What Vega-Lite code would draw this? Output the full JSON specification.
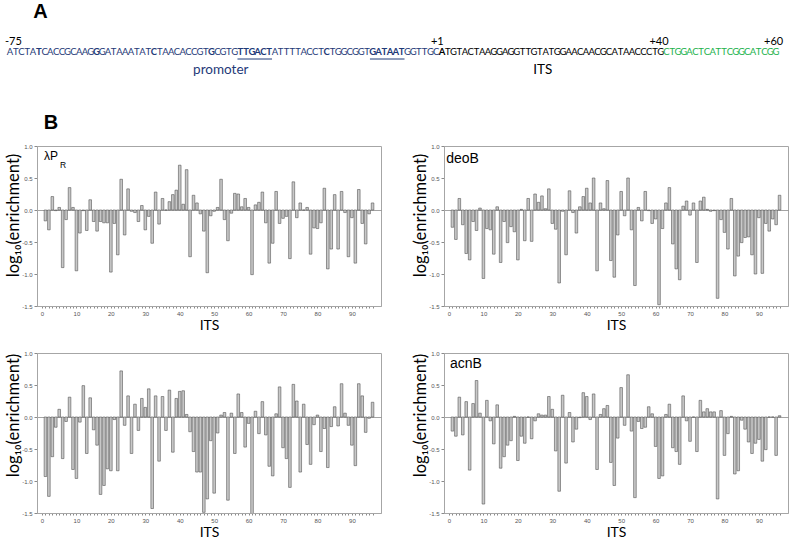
{
"$schema": "https://vega.github.io/schema/vega-lite/v6.json",
"background": "white",
"padding": {"left": 5, "top": 0, "right": 2, "bottom": 2},
"config": {
  "view": {"stroke": "#a6a6a6", "strokeWidth": 1},
  "axis": {"grid": false, "labelFont": "Liberation Sans", "labelFontSize": 6, "labelColor": "#555555", "domainColor": "#a6a6a6", "tickColor": "#8a8a8a", "titleFont": "Lato", "titleFontWeight": "normal", "titleColor": "#000000", "labelFlush": false, "labelOverlap": false},
  "text": {"font": "Lato"}
},
"datasets": {
"seq": [
{"i":1,"c":"A","g":"p","b":0},{"i":2,"c":"T","g":"p","b":0},{"i":3,"c":"C","g":"p","b":0},{"i":4,"c":"T","g":"p","b":0},{"i":5,"c":"A","g":"p","b":0},{"i":6,"c":"T","g":"p","b":1},{"i":7,"c":"C","g":"p","b":0},{"i":8,"c":"A","g":"p","b":0},{"i":9,"c":"C","g":"p","b":0},{"i":10,"c":"C","g":"p","b":0},
{"i":11,"c":"G","g":"p","b":0},{"i":12,"c":"C","g":"p","b":0},{"i":13,"c":"A","g":"p","b":0},{"i":14,"c":"A","g":"p","b":0},{"i":15,"c":"G","g":"p","b":0},{"i":16,"c":"G","g":"p","b":1},{"i":17,"c":"G","g":"p","b":0},{"i":18,"c":"A","g":"p","b":0},{"i":19,"c":"T","g":"p","b":0},{"i":20,"c":"A","g":"p","b":0},
{"i":21,"c":"A","g":"p","b":0},{"i":22,"c":"A","g":"p","b":0},{"i":23,"c":"T","g":"p","b":0},{"i":24,"c":"A","g":"p","b":0},{"i":25,"c":"T","g":"p","b":0},{"i":26,"c":"C","g":"p","b":1},{"i":27,"c":"T","g":"p","b":0},{"i":28,"c":"A","g":"p","b":0},{"i":29,"c":"A","g":"p","b":0},{"i":30,"c":"C","g":"p","b":0},
{"i":31,"c":"A","g":"p","b":0},{"i":32,"c":"C","g":"p","b":0},{"i":33,"c":"C","g":"p","b":0},{"i":34,"c":"G","g":"p","b":0},{"i":35,"c":"T","g":"p","b":0},{"i":36,"c":"G","g":"p","b":1},{"i":37,"c":"C","g":"p","b":0},{"i":38,"c":"G","g":"p","b":0},{"i":39,"c":"T","g":"p","b":0},{"i":40,"c":"G","g":"p","b":0},
{"i":41,"c":"T","g":"p","b":1},{"i":42,"c":"T","g":"p","b":1},{"i":43,"c":"G","g":"p","b":1},{"i":44,"c":"A","g":"p","b":1},{"i":45,"c":"C","g":"p","b":1},{"i":46,"c":"T","g":"p","b":1},{"i":47,"c":"A","g":"p","b":0},{"i":48,"c":"T","g":"p","b":0},{"i":49,"c":"T","g":"p","b":0},{"i":50,"c":"T","g":"p","b":0},
{"i":51,"c":"T","g":"p","b":0},{"i":52,"c":"A","g":"p","b":0},{"i":53,"c":"C","g":"p","b":0},{"i":54,"c":"C","g":"p","b":0},{"i":55,"c":"T","g":"p","b":0},{"i":56,"c":"C","g":"p","b":1},{"i":57,"c":"T","g":"p","b":0},{"i":58,"c":"G","g":"p","b":0},{"i":59,"c":"G","g":"p","b":0},{"i":60,"c":"C","g":"p","b":0},
{"i":61,"c":"G","g":"p","b":0},{"i":62,"c":"G","g":"p","b":0},{"i":63,"c":"T","g":"p","b":0},{"i":64,"c":"G","g":"p","b":1},{"i":65,"c":"A","g":"p","b":1},{"i":66,"c":"T","g":"p","b":1},{"i":67,"c":"A","g":"p","b":1},{"i":68,"c":"A","g":"p","b":1},{"i":69,"c":"T","g":"p","b":1},{"i":70,"c":"G","g":"p","b":0},
{"i":71,"c":"G","g":"p","b":0},{"i":72,"c":"T","g":"p","b":0},{"i":73,"c":"T","g":"p","b":0},{"i":74,"c":"G","g":"p","b":0},{"i":75,"c":"C","g":"p","b":0},{"i":76,"c":"A","g":"t","b":1},{"i":77,"c":"T","g":"t","b":0},{"i":78,"c":"G","g":"t","b":0},{"i":79,"c":"T","g":"t","b":0},{"i":80,"c":"A","g":"t","b":0},
{"i":81,"c":"C","g":"t","b":0},{"i":82,"c":"T","g":"t","b":0},{"i":83,"c":"A","g":"t","b":0},{"i":84,"c":"A","g":"t","b":0},{"i":85,"c":"G","g":"t","b":0},{"i":86,"c":"G","g":"t","b":0},{"i":87,"c":"A","g":"t","b":0},{"i":88,"c":"G","g":"t","b":0},{"i":89,"c":"G","g":"t","b":0},{"i":90,"c":"T","g":"t","b":0},
{"i":91,"c":"T","g":"t","b":0},{"i":92,"c":"G","g":"t","b":0},{"i":93,"c":"T","g":"t","b":0},{"i":94,"c":"A","g":"t","b":0},{"i":95,"c":"T","g":"t","b":0},{"i":96,"c":"G","g":"t","b":0},{"i":97,"c":"G","g":"t","b":0},{"i":98,"c":"A","g":"t","b":0},{"i":99,"c":"A","g":"t","b":0},{"i":100,"c":"C","g":"t","b":0},
{"i":101,"c":"A","g":"t","b":0},{"i":102,"c":"A","g":"t","b":0},{"i":103,"c":"C","g":"t","b":0},{"i":104,"c":"G","g":"t","b":0},{"i":105,"c":"C","g":"t","b":0},{"i":106,"c":"A","g":"t","b":0},{"i":107,"c":"T","g":"t","b":0},{"i":108,"c":"A","g":"t","b":0},{"i":109,"c":"A","g":"t","b":0},{"i":110,"c":"C","g":"t","b":0},
{"i":111,"c":"C","g":"t","b":0},{"i":112,"c":"C","g":"t","b":0},{"i":113,"c":"T","g":"t","b":0},{"i":114,"c":"G","g":"t","b":0},{"i":115,"c":"C","g":"d","b":0},{"i":116,"c":"T","g":"d","b":0},{"i":117,"c":"G","g":"d","b":0},{"i":118,"c":"G","g":"d","b":0},{"i":119,"c":"A","g":"d","b":0},{"i":120,"c":"C","g":"d","b":0},
{"i":121,"c":"T","g":"d","b":0},{"i":122,"c":"C","g":"d","b":0},{"i":123,"c":"A","g":"d","b":0},{"i":124,"c":"T","g":"d","b":0},{"i":125,"c":"T","g":"d","b":0},{"i":126,"c":"C","g":"d","b":0},{"i":127,"c":"G","g":"d","b":0},{"i":128,"c":"G","g":"d","b":0},{"i":129,"c":"C","g":"d","b":0},{"i":130,"c":"A","g":"d","b":0},
{"i":131,"c":"T","g":"d","b":0},{"i":132,"c":"C","g":"d","b":0},{"i":133,"c":"G","g":"d","b":0},{"i":134,"c":"G","g":"d","b":0}
],
"lpr": [
{"pos":1,"val":-0.17},{"pos":2,"val":-0.31},{"pos":3,"val":0.21},{"pos":4,"val":-0.01},{"pos":5,"val":0.04},{"pos":6,"val":-0.9},{"pos":7,"val":-0.15},{"pos":8,"val":0.35},{"pos":9,"val":0.04},{"pos":10,"val":-0.95},
{"pos":11,"val":-0.36},{"pos":12,"val":-0.01},{"pos":13,"val":-0.32},{"pos":14,"val":0.16},{"pos":15,"val":-0.18},{"pos":16,"val":-0.33},{"pos":17,"val":-0.18},{"pos":18,"val":-0.2},{"pos":19,"val":-0.2},{"pos":20,"val":-0.97},
{"pos":21,"val":-0.21},{"pos":22,"val":-0.7},{"pos":23,"val":0.48},{"pos":24,"val":-0.39},{"pos":25,"val":0.33},{"pos":26,"val":-0.02},{"pos":27,"val":-0.04},{"pos":28,"val":-0.18},{"pos":29,"val":0.07},{"pos":30,"val":-0.31},
{"pos":31,"val":-0.1},{"pos":32,"val":-0.52},{"pos":33,"val":0.28},{"pos":34,"val":-0.22},{"pos":35,"val":0.18},{"pos":36,"val":0.0},{"pos":37,"val":0.13},{"pos":38,"val":0.24},{"pos":39,"val":0.31},{"pos":40,"val":0.7},
{"pos":41,"val":0.09},{"pos":42,"val":0.63},{"pos":43,"val":-0.73},{"pos":44,"val":0.23},{"pos":45,"val":0.11},{"pos":46,"val":-0.06},{"pos":47,"val":-0.33},{"pos":48,"val":-0.98},{"pos":49,"val":-0.09},{"pos":50,"val":-0.02},
{"pos":51,"val":0.04},{"pos":52,"val":0.48},{"pos":53,"val":-0.15},{"pos":54,"val":-0.48},{"pos":55,"val":-0.05},{"pos":56,"val":0.26},{"pos":57,"val":0.25},{"pos":58,"val":0.05},{"pos":59,"val":0.18},{"pos":60,"val":0.04},
{"pos":61,"val":-1.01},{"pos":62,"val":0.08},{"pos":63,"val":0.12},{"pos":64,"val":0.28},{"pos":65,"val":-0.2},{"pos":66,"val":-0.83},{"pos":67,"val":-0.52},{"pos":68,"val":0.29},{"pos":69,"val":-0.21},{"pos":70,"val":-0.13},
{"pos":71,"val":-0.1},{"pos":72,"val":-0.76},{"pos":73,"val":0.44},{"pos":74,"val":-0.12},{"pos":75,"val":0.11},{"pos":76,"val":0.0},{"pos":77,"val":0.04},{"pos":78,"val":-0.69},{"pos":79,"val":-0.28},{"pos":80,"val":-0.29},
{"pos":81,"val":-0.2},{"pos":82,"val":0.34},{"pos":83,"val":-0.92},{"pos":84,"val":-0.61},{"pos":85,"val":0.24},{"pos":86,"val":-0.61},{"pos":87,"val":0.29},{"pos":88,"val":-0.04},{"pos":89,"val":-0.73},{"pos":90,"val":-0.12},
{"pos":91,"val":-0.83},{"pos":92,"val":0.32},{"pos":93,"val":-0.21},{"pos":94,"val":-0.53},{"pos":95,"val":-0.06},{"pos":96,"val":0.11}
],
"deob": [
{"pos":1,"val":-0.27},{"pos":2,"val":-0.46},{"pos":3,"val":0.18},{"pos":4,"val":-0.23},{"pos":5,"val":-0.68},{"pos":6,"val":-0.78},{"pos":7,"val":-0.18},{"pos":8,"val":-0.32},{"pos":9,"val":0.03},{"pos":10,"val":-1.07},
{"pos":11,"val":-0.29},{"pos":12,"val":-0.31},{"pos":13,"val":-0.69},{"pos":14,"val":0.05},{"pos":15,"val":-0.82},{"pos":16,"val":-0.18},{"pos":17,"val":-0.51},{"pos":18,"val":-0.26},{"pos":19,"val":-0.34},{"pos":20,"val":-0.78},
{"pos":21,"val":0.01},{"pos":22,"val":-0.48},{"pos":23,"val":0.18},{"pos":24,"val":-0.49},{"pos":25,"val":0.25},{"pos":26,"val":0.12},{"pos":27,"val":0.22},{"pos":28,"val":0.02},{"pos":29,"val":0.33},{"pos":30,"val":-0.21},
{"pos":31,"val":-0.3},{"pos":32,"val":-1.14},{"pos":33,"val":-0.02},{"pos":34,"val":-0.7},{"pos":35,"val":0.3},{"pos":36,"val":-0.04},{"pos":37,"val":-0.36},{"pos":38,"val":0.05},{"pos":39,"val":0.21},{"pos":40,"val":0.34},
{"pos":41,"val":0.11},{"pos":42,"val":0.5},{"pos":43,"val":-0.95},{"pos":44,"val":0.11},{"pos":45,"val":0.02},{"pos":46,"val":0.46},{"pos":47,"val":-0.79},{"pos":48,"val":-1.05},{"pos":49,"val":-0.39},{"pos":50,"val":0.29},
{"pos":51,"val":-0.09},{"pos":52,"val":0.5},{"pos":53,"val":-0.31},{"pos":54,"val":-1.18},{"pos":55,"val":0.04},{"pos":56,"val":-0.17},{"pos":57,"val":0.29},{"pos":58,"val":-0.01},{"pos":59,"val":-0.21},{"pos":60,"val":-0.14},
{"pos":61,"val":-1.48},{"pos":62,"val":-0.29},{"pos":63,"val":0.11},{"pos":64,"val":0.35},{"pos":65,"val":-0.53},{"pos":66,"val":-0.92},{"pos":67,"val":-1.09},{"pos":68,"val":0.06},{"pos":69,"val":0.14},{"pos":70,"val":-0.08},
{"pos":71,"val":0.11},{"pos":72,"val":-0.82},{"pos":73,"val":0.14},{"pos":74,"val":0.2},{"pos":75,"val":0.01},{"pos":76,"val":-0.02},{"pos":77,"val":-0.01},{"pos":78,"val":-1.38},{"pos":79,"val":-0.15},{"pos":80,"val":-0.35},
{"pos":81,"val":-0.61},{"pos":82,"val":0.18},{"pos":83,"val":-1.03},{"pos":84,"val":-0.72},{"pos":85,"val":-0.51},{"pos":86,"val":-0.43},{"pos":87,"val":-0.42},{"pos":88,"val":-0.7},{"pos":89,"val":-1.0},{"pos":90,"val":-0.12},
{"pos":91,"val":-0.99},{"pos":92,"val":-0.21},{"pos":93,"val":-0.33},{"pos":94,"val":-0.14},{"pos":95,"val":-0.23},{"pos":96,"val":0.23}
],
"bl": [
{"pos":1,"val":-0.93},{"pos":2,"val":-1.24},{"pos":3,"val":-0.62},{"pos":4,"val":-0.16},{"pos":5,"val":0.12},{"pos":6,"val":-0.65},{"pos":7,"val":-0.07},{"pos":8,"val":0.31},{"pos":9,"val":-0.82},{"pos":10,"val":-0.96},
{"pos":11,"val":-0.08},{"pos":12,"val":0.49},{"pos":13,"val":-0.57},{"pos":14,"val":0.3},{"pos":15,"val":-0.2},{"pos":16,"val":-0.44},{"pos":17,"val":-1.21},{"pos":18,"val":-1.07},{"pos":19,"val":-0.81},{"pos":20,"val":-0.84},
{"pos":21,"val":-0.04},{"pos":22,"val":-0.84},{"pos":23,"val":0.72},{"pos":24,"val":-0.13},{"pos":25,"val":0.33},{"pos":26,"val":-0.57},{"pos":27,"val":0.2},{"pos":28,"val":-0.21},{"pos":29,"val":0.29},{"pos":30,"val":0.15},
{"pos":31,"val":0.44},{"pos":32,"val":-1.43},{"pos":33,"val":0.33},{"pos":34,"val":-0.69},{"pos":35,"val":0.32},{"pos":36,"val":-0.21},{"pos":37,"val":0.42},{"pos":38,"val":-0.55},{"pos":39,"val":0.29},{"pos":40,"val":0.4},
{"pos":41,"val":0.41},{"pos":42,"val":0.04},{"pos":43,"val":-0.23},{"pos":44,"val":-0.54},{"pos":45,"val":-0.86},{"pos":46,"val":-0.86},{"pos":47,"val":-1.49},{"pos":48,"val":-1.28},{"pos":49,"val":-0.37},{"pos":50,"val":-1.19},
{"pos":51,"val":-0.25},{"pos":52,"val":0.03},{"pos":53,"val":0.07},{"pos":54,"val":-1.3},{"pos":55,"val":0.06},{"pos":56,"val":-0.57},{"pos":57,"val":0.36},{"pos":58,"val":0.07},{"pos":59,"val":-0.47},{"pos":60,"val":-0.1},
{"pos":61,"val":-1.54},{"pos":62,"val":0.09},{"pos":63,"val":-0.26},{"pos":64,"val":0.24},{"pos":65,"val":-0.28},{"pos":66,"val":-0.77},{"pos":67,"val":-0.92},{"pos":68,"val":0.05},{"pos":69,"val":0.47},{"pos":70,"val":-0.48},
{"pos":71,"val":-0.65},{"pos":72,"val":-1.1},{"pos":73,"val":0.51},{"pos":74,"val":0.25},{"pos":75,"val":-0.86},{"pos":76,"val":0.2},{"pos":77,"val":-0.43},{"pos":78,"val":-0.74},{"pos":79,"val":-0.12},{"pos":80,"val":0.03},
{"pos":81,"val":-0.54},{"pos":82,"val":-0.18},{"pos":83,"val":-0.79},{"pos":84,"val":-0.15},{"pos":85,"val":0.16},{"pos":86,"val":-0.14},{"pos":87,"val":0.52},{"pos":88,"val":0.06},{"pos":89,"val":-0.13},{"pos":90,"val":-0.44},
{"pos":91,"val":-0.76},{"pos":92,"val":0.52},{"pos":93,"val":0.33},{"pos":94,"val":-0.24},{"pos":95,"val":-0.02},{"pos":96,"val":0.23}
],
"acnb": [
{"pos":1,"val":-0.22},{"pos":2,"val":-0.3},{"pos":3,"val":0.31},{"pos":4,"val":-0.28},{"pos":5,"val":0.24},{"pos":6,"val":-0.83},{"pos":7,"val":0.21},{"pos":8,"val":0.57},{"pos":9,"val":0.06},{"pos":10,"val":-1.36},
{"pos":11,"val":0.26},{"pos":12,"val":-0.06},{"pos":13,"val":-0.42},{"pos":14,"val":0.19},{"pos":15,"val":-0.8},{"pos":16,"val":-0.62},{"pos":17,"val":-0.44},{"pos":18,"val":-0.37},{"pos":19,"val":0.01},{"pos":20,"val":-0.68},
{"pos":21,"val":-0.3},{"pos":22,"val":-0.41},{"pos":23,"val":0.0},{"pos":24,"val":-0.34},{"pos":25,"val":-0.06},{"pos":26,"val":0.05},{"pos":27,"val":0.03},{"pos":28,"val":0.03},{"pos":29,"val":0.32},{"pos":30,"val":0.12},
{"pos":31,"val":-0.53},{"pos":32,"val":-1.16},{"pos":33,"val":0.34},{"pos":34,"val":-0.72},{"pos":35,"val":0.07},{"pos":36,"val":-0.39},{"pos":37,"val":-0.19},{"pos":38,"val":-0.01},{"pos":39,"val":0.38},{"pos":40,"val":0.32},
{"pos":41,"val":-0.04},{"pos":42,"val":0.36},{"pos":43,"val":-0.82},{"pos":44,"val":0.04},{"pos":45,"val":0.13},{"pos":46,"val":0.18},{"pos":47,"val":-0.71},{"pos":48,"val":-1.07},{"pos":49,"val":-0.33},{"pos":50,"val":0.46},
{"pos":51,"val":-0.13},{"pos":52,"val":0.66},{"pos":53,"val":-0.22},{"pos":54,"val":-1.26},{"pos":55,"val":-0.07},{"pos":56,"val":-0.18},{"pos":57,"val":-0.16},{"pos":58,"val":0.16},{"pos":59,"val":0.05},{"pos":60,"val":-0.46},
{"pos":61,"val":-0.96},{"pos":62,"val":-0.92},{"pos":63,"val":0.04},{"pos":64,"val":0.2},{"pos":65,"val":-0.48},{"pos":66,"val":-0.54},{"pos":67,"val":-0.74},{"pos":68,"val":0.33},{"pos":69,"val":-0.06},{"pos":70,"val":-0.38},
{"pos":71,"val":0.0},{"pos":72,"val":-0.54},{"pos":73,"val":0.26},{"pos":74,"val":0.08},{"pos":75,"val":0.13},{"pos":76,"val":0.08},{"pos":77,"val":0.08},{"pos":78,"val":-1.28},{"pos":79,"val":0.1},{"pos":80,"val":-0.6},
{"pos":81,"val":-0.26},{"pos":82,"val":0.01},{"pos":83,"val":-0.89},{"pos":84,"val":-0.84},{"pos":85,"val":-0.05},{"pos":86,"val":-0.19},{"pos":87,"val":-0.39},{"pos":88,"val":-0.57},{"pos":89,"val":-0.41},{"pos":90,"val":-0.35},
{"pos":91,"val":-0.69},{"pos":92,"val":-0.51},{"pos":93,"val":0.0},{"pos":94,"val":0.0},{"pos":95,"val":-0.6},{"pos":96,"val":0.02}
]
},
"spacing": 10,
"bounds": "flush",
"vconcat": [
{
  "width": 751, "height": 136,
  "view": {"stroke": null},
  "layer": [
    {"data": {"name": "seq"}, "transform": [{"filter": "datum.b == 0"}],
     "mark": {"type": "text", "fontSize": 9.5, "baseline": "middle", "align": "center"},
     "encoding": {
       "x": {"field": "i", "type": "quantitative", "scale": {"domain": [5.688, 136.09], "nice": false, "zero": false}, "axis": null},
       "y": {"datum": 5.2, "type": "quantitative", "scale": {"domain": [0, 13.6], "reverse": true, "nice": false, "zero": false}, "axis": null},
       "text": {"field": "c"},
       "color": {"field": "g", "type": "nominal", "scale": {"domain": ["p", "t", "d"], "range": ["#1f3a78", "#000000", "#22b24c"]}, "legend": null}
     }},
    {"data": {"name": "seq"}, "transform": [{"filter": "datum.b == 1"}],
     "mark": {"type": "text", "fontSize": 9.5, "fontWeight": "bold", "baseline": "middle", "align": "center"},
     "encoding": {
       "x": {"field": "i", "type": "quantitative", "axis": null},
       "y": {"datum": 5.2, "type": "quantitative", "axis": null},
       "text": {"field": "c"},
       "color": {"field": "g", "type": "nominal", "legend": null}
     }},
    {"data": {"values": [{"a": 40.5, "e": 46.5}, {"a": 63.5, "e": 69.5}]},
     "mark": {"type": "rule", "color": "#1f3a78", "strokeWidth": 1},
     "encoding": {"x": {"field": "a", "type": "quantitative", "axis": null}, "x2": {"field": "e"}, "y": {"datum": 5.9, "type": "quantitative", "axis": null}}},
    {"data": {"values": [{"t": "-75", "i": 1.6}, {"t": "+1", "i": 75.2}, {"t": "+40", "i": 113.7}, {"t": "+60", "i": 133.6}]},
     "mark": {"type": "text", "fontSize": 11, "baseline": "middle", "align": "center", "color": "#000000"},
     "encoding": {"x": {"field": "i", "type": "quantitative", "axis": null}, "y": {"datum": 4.15, "type": "quantitative", "axis": null}, "text": {"field": "t"}}},
    {"data": {"values": [{"t": "promoter", "i": 37.6, "g": "p"}, {"t": "ITS", "i": 93.5, "g": "t"}]},
     "mark": {"type": "text", "fontSize": 13.5, "baseline": "middle", "align": "center"},
     "encoding": {"x": {"field": "i", "type": "quantitative", "axis": null}, "y": {"datum": 7.0, "type": "quantitative", "axis": null}, "text": {"field": "t"}, "color": {"field": "g", "type": "nominal", "legend": null}}},
    {"data": {"values": [{"t": "A"}]},
     "mark": {"type": "text", "font": "Liberation Sans", "fontSize": 20, "fontWeight": "bold", "baseline": "middle", "align": "center", "color": "#000000"},
     "encoding": {"x": {"datum": 6.3, "type": "quantitative", "axis": null}, "y": {"datum": 1.15, "type": "quantitative", "axis": null}, "text": {"field": "t"}}},
    {"data": {"values": [{"t": "B"}]},
     "mark": {"type": "text", "font": "Liberation Sans", "fontSize": 20, "fontWeight": "bold", "baseline": "middle", "align": "center", "color": "#000000"},
     "encoding": {"x": {"datum": 8.1, "type": "quantitative", "axis": null}, "y": {"datum": 12.3, "type": "quantitative", "axis": null}, "text": {"field": "t"}}}
  ]
},
{
  "columns": 2,
  "spacing": {"row": 47, "column": 63},
  "bounds": "flush",
  "concat": [
    {"width": 344, "height": 160,
     "resolve": {"scale": {"x": "independent", "y": "independent"}},
     "layer": [
       {"data": {"name": "lpr"},
        "mark": {"type": "bar", "orient": "vertical", "width": 2.6, "fill": "#c8c8c8", "stroke": "#555555", "strokeWidth": 0.6, "clip": true},
        "encoding": {
          "x": {"field": "pos", "type": "quantitative", "scale": {"domain": [0, 97], "nice": false, "zero": false},
                "axis": {"title": "ITS", "values": [0,1,2,3,4,5,6,7,8,9,10,11,12,13,14,15,16,17,18,19,20,21,22,23,24,25,26,27,28,29,30,31,32,33,34,35,36,37,38,39,40,41,42,43,44,45,46,47,48,49,50,51,52,53,54,55,56,57,58,59,60,61,62,63,64,65,66,67,68,69,70,71,72,73,74,75,76,77,78,79,80,81,82,83,84,85,86,87,88,89,90,91,92,93,94,95,96], "labelExpr": "datum.value % 10 === 0 ? datum.label : ''", "labelOverlap": false, "tickSize": 2, "labelPadding": 2, "titleFontSize": 14, "titlePadding": 2}},
          "y": {"field": "val", "type": "quantitative", "scale": {"domain": [-1.5, 1], "nice": false},
                "axis": {"title": "log₁₀(enrichment)", "values": [-1.5, -1, -0.5, 0, 0.5, 1], "format": ".1f", "labelExpr": "replace(datum.label, '−', '-')", "labelOverlap": false, "tickSize": 3, "labelPadding": 2, "titleFontSize": 16.5, "titlePadding": 0, "titleY": 69,
                         "grid": true, "gridColor": "#8c8c8c", "gridWidth": 0.8, "gridOpacity": {"condition": {"test": "datum.value === 0", "value": 1}, "value": 0}}},
          "y2": {"datum": 0}
        }},
       {"data": {"values": [{"t": "λP"}]}, "mark": {"type": "text", "font": "Liberation Sans", "fontSize": 12, "align": "left", "baseline": "alphabetic", "color": "#000000"},
        "encoding": {"x": {"datum": 2.0, "type": "quantitative", "scale": {"domain": [0, 97], "nice": false, "zero": false}, "axis": null}, "y": {"datum": 0.78, "type": "quantitative", "scale": {"domain": [-1.5, 1], "nice": false}, "axis": null}, "text": {"field": "t"}}},
       {"data": {"values": [{"t": "R"}]}, "mark": {"type": "text", "font": "Liberation Sans", "fontSize": 8.5, "align": "left", "baseline": "alphabetic", "color": "#000000"},
        "encoding": {"x": {"datum": 6.5, "type": "quantitative", "scale": {"domain": [0, 97], "nice": false, "zero": false}, "axis": null}, "y": {"datum": 0.66, "type": "quantitative", "scale": {"domain": [-1.5, 1], "nice": false}, "axis": null}, "text": {"field": "t"}}}
     ]},
    {"width": 344, "height": 160,
     "resolve": {"scale": {"x": "independent", "y": "independent"}},
     "layer": [
       {"data": {"name": "deob"},
        "mark": {"type": "bar", "orient": "vertical", "width": 2.6, "fill": "#c8c8c8", "stroke": "#555555", "strokeWidth": 0.6, "clip": true},
        "encoding": {
          "x": {"field": "pos", "type": "quantitative", "scale": {"domain": [0, 97], "nice": false, "zero": false},
                "axis": {"title": "ITS", "values": [0,1,2,3,4,5,6,7,8,9,10,11,12,13,14,15,16,17,18,19,20,21,22,23,24,25,26,27,28,29,30,31,32,33,34,35,36,37,38,39,40,41,42,43,44,45,46,47,48,49,50,51,52,53,54,55,56,57,58,59,60,61,62,63,64,65,66,67,68,69,70,71,72,73,74,75,76,77,78,79,80,81,82,83,84,85,86,87,88,89,90,91,92,93,94,95,96], "labelExpr": "datum.value % 10 === 0 ? datum.label : ''", "labelOverlap": false, "tickSize": 2, "labelPadding": 2, "titleFontSize": 14, "titlePadding": 2}},
          "y": {"field": "val", "type": "quantitative", "scale": {"domain": [-1.5, 1], "nice": false},
                "axis": {"title": "log₁₀(enrichment)", "values": [-1.5, -1, -0.5, 0, 0.5, 1], "format": ".1f", "labelExpr": "replace(datum.label, '−', '-')", "labelOverlap": false, "tickSize": 3, "labelPadding": 2, "titleFontSize": 16.5, "titlePadding": 0, "titleY": 69,
                         "grid": true, "gridColor": "#8c8c8c", "gridWidth": 0.8, "gridOpacity": {"condition": {"test": "datum.value === 0", "value": 1}, "value": 0}}},
          "y2": {"datum": 0}
        }},
       {"data": {"values": [{"t": "deoB"}]}, "mark": {"type": "text", "font": "Liberation Sans", "fontSize": 14, "align": "left", "baseline": "alphabetic", "color": "#000000"},
        "encoding": {"x": {"datum": 0.6, "type": "quantitative", "scale": {"domain": [0, 97], "nice": false, "zero": false}, "axis": null}, "y": {"datum": 0.74, "type": "quantitative", "scale": {"domain": [-1.5, 1], "nice": false}, "axis": null}, "text": {"field": "t"}}}
     ]},
    {"width": 344, "height": 160,
     "layer": [
       {"data": {"name": "bl"},
        "mark": {"type": "bar", "orient": "vertical", "width": 2.6, "fill": "#c8c8c8", "stroke": "#555555", "strokeWidth": 0.6, "clip": true},
        "encoding": {
          "x": {"field": "pos", "type": "quantitative", "scale": {"domain": [0, 97], "nice": false, "zero": false},
                "axis": {"title": "ITS", "values": [0,1,2,3,4,5,6,7,8,9,10,11,12,13,14,15,16,17,18,19,20,21,22,23,24,25,26,27,28,29,30,31,32,33,34,35,36,37,38,39,40,41,42,43,44,45,46,47,48,49,50,51,52,53,54,55,56,57,58,59,60,61,62,63,64,65,66,67,68,69,70,71,72,73,74,75,76,77,78,79,80,81,82,83,84,85,86,87,88,89,90,91,92,93,94,95,96], "labelExpr": "datum.value % 10 === 0 ? datum.label : ''", "labelOverlap": false, "tickSize": 2, "labelPadding": 2, "titleFontSize": 14, "titlePadding": 2}},
          "y": {"field": "val", "type": "quantitative", "scale": {"domain": [-1.5, 1], "nice": false},
                "axis": {"title": "log₁₀(enrichment)", "values": [-1.5, -1, -0.5, 0, 0.5, 1], "format": ".1f", "labelExpr": "replace(datum.label, '−', '-')", "labelOverlap": false, "tickSize": 3, "labelPadding": 2, "titleFontSize": 16.5, "titlePadding": 0, "titleY": 62,
                         "grid": true, "gridColor": "#8c8c8c", "gridWidth": 0.8, "gridOpacity": {"condition": {"test": "datum.value === 0", "value": 1}, "value": 0}}},
          "y2": {"datum": 0}
        }}
     ]},
    {"width": 344, "height": 160,
     "resolve": {"scale": {"x": "independent", "y": "independent"}},
     "layer": [
       {"data": {"name": "acnb"},
        "mark": {"type": "bar", "orient": "vertical", "width": 2.6, "fill": "#c8c8c8", "stroke": "#555555", "strokeWidth": 0.6, "clip": true},
        "encoding": {
          "x": {"field": "pos", "type": "quantitative", "scale": {"domain": [0, 97], "nice": false, "zero": false},
                "axis": {"title": "ITS", "values": [0,1,2,3,4,5,6,7,8,9,10,11,12,13,14,15,16,17,18,19,20,21,22,23,24,25,26,27,28,29,30,31,32,33,34,35,36,37,38,39,40,41,42,43,44,45,46,47,48,49,50,51,52,53,54,55,56,57,58,59,60,61,62,63,64,65,66,67,68,69,70,71,72,73,74,75,76,77,78,79,80,81,82,83,84,85,86,87,88,89,90,91,92,93,94,95,96], "labelExpr": "datum.value % 10 === 0 ? datum.label : ''", "labelOverlap": false, "tickSize": 2, "labelPadding": 2, "titleFontSize": 14, "titlePadding": 2}},
          "y": {"field": "val", "type": "quantitative", "scale": {"domain": [-1.5, 1], "nice": false},
                "axis": {"title": "log₁₀(enrichment)", "values": [-1.5, -1, -0.5, 0, 0.5, 1], "format": ".1f", "labelExpr": "replace(datum.label, '−', '-')", "labelOverlap": false, "tickSize": 3, "labelPadding": 2, "titleFontSize": 16.5, "titlePadding": 0, "titleY": 62,
                         "grid": true, "gridColor": "#8c8c8c", "gridWidth": 0.8, "gridOpacity": {"condition": {"test": "datum.value === 0", "value": 1}, "value": 0}}},
          "y2": {"datum": 0}
        }},
       {"data": {"values": [{"t": "acnB"}]}, "mark": {"type": "text", "font": "Liberation Sans", "fontSize": 14, "align": "left", "baseline": "alphabetic", "color": "#000000"},
        "encoding": {"x": {"datum": 1.7, "type": "quantitative", "scale": {"domain": [0, 97], "nice": false, "zero": false}, "axis": null}, "y": {"datum": 0.77, "type": "quantitative", "scale": {"domain": [-1.5, 1], "nice": false}, "axis": null}, "text": {"field": "t"}}}
     ]}
  ]
}
]
}
